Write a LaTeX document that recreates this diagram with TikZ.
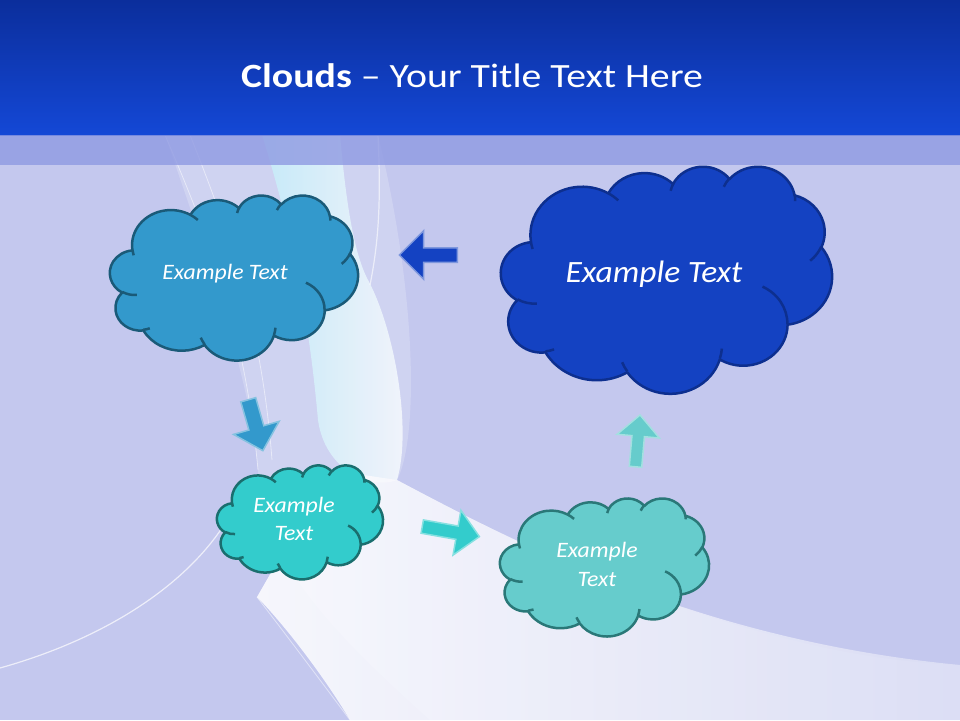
\documentclass[tikz,border=0pt]{standalone}
\usepackage{fontspec}
\setmainfont{Carlito}
\newfontfamily\titlefont[FakeStretch=1.17]{Carlito}
\newfontfamily\cloudfont[FakeStretch=1.08]{Carlito}
\usetikzlibrary{shapes.arrows,positioning}

\definecolor{titletop}{HTML}{0B2E9C}
\definecolor{titlebot}{HTML}{1448D6}
\definecolor{bandblue}{HTML}{8F9AE2}
\definecolor{paper}{HTML}{C4C8EE}
\definecolor{glow}{HTML}{C4F2FB}
\definecolor{skyfill}{HTML}{3399CC}
\definecolor{skyline}{HTML}{1A5A78}
\definecolor{deepfill}{HTML}{1442C2}
\definecolor{deepline}{HTML}{0D2F8F}
\definecolor{aquafill}{HTML}{33CCCC}
\definecolor{aqualine}{HTML}{1A6E6E}
\definecolor{mintfill}{HTML}{66CCCC}
\definecolor{mintline}{HTML}{2A7878}

% one puff arc: x radius, y radius, start angle, sweep (slide angles)
\newcommand{\ooarc}[4]{arc[x radius=#1, y radius=#2,
  start angle={atan2(#1*sin(#3),#2*cos(#3))},
  delta angle={atan2(#1*sin(#3+#4),#2*cos(#3+#4))-atan2(#1*sin(#3),#2*cos(#3))
    +360*round((#4-atan2(#1*sin(#3+#4),#2*cos(#3+#4))+atan2(#1*sin(#3),#2*cos(#3)))/360)}]}

% cloud in the box x0, y0, width, height; fill, line
\newcommand{\ppcloud}[6]{%
  \begin{scope}[shift={(#1,#2)}, xscale=#3/432, yscale=#4/432,
                line width=2.5pt, line join=round]
    \filldraw[fill=#5, draw=#6] (39.00,143.70)
      \ooarc{67.53}{91.90}{-190.4875}{123.7805}
      \ooarc{53.33}{72.67}{-144.1024}{89.9452}
      \ooarc{43.65}{59.45}{-145.8079}{99.7230}
      \ooarc{48.57}{65.95}{-130.9861}{117.2417}
      \ooarc{53.33}{72.73}{-78.7089}{109.0269}
      \ooarc{67.75}{92.20}{-46.2673}{130.2690}
      \ooarc{57.85}{78.67}{0.6250}{114.0333}
      \ooarc{67.52}{92.15}{22.4516}{115.1726}
      \ooarc{77.20}{105.43}{66.2426}{75.7110}
      \ooarc{43.60}{59.18}{-274.9421}{146.7356}
      \ooarc{43.45}{59.45}{-246.8285}{152.5189} -- cycle;
    \draw[#6] (46.93,261.77) \ooarc{43.45}{59.45}{86.7420}{26.4295}
      (69.28,348.99) \ooarc{43.60}{59.18}{73.6105}{11.4475}
      (164.78,390.90) \ooarc{67.52}{92.15}{137.6242}{14.0811}
      (288.27,347.51) \ooarc{67.52}{92.15}{6.4533}{15.9984}
      (341.29,229.54) \ooarc{57.85}{78.67}{-70.2924}{70.9174}
      (417.98,153.54) \ooarc{53.33}{72.73}{30.3180}{27.7515}
      (383.24,54.26) \ooarc{48.57}{65.95}{-13.7443}{14.8589}
      (290.78,39.52) \ooarc{48.57}{65.95}{-149.1815}{18.1954}
      (221.41,47.20) \ooarc{43.65}{59.45}{-163.4943}{17.6864}
      (140.00,51.92) \ooarc{67.53}{91.90}{-66.7070}{12.3194}
      (41.27,157.89) \ooarc{67.53}{91.90}{157.6544}{11.8582};
  \end{scope}}

\tikzset{
  cloudtext/.style={text=white, align=center},
  blockarrow/.style 2 args={single arrow, inner xsep=0pt, inner ysep=#2,
                            minimum width=0pt, line width=1.5pt,
                            single arrow head extend=#1}
}

\begin{document}
\begin{tikzpicture}[x=1pt,y=-1pt]
    \useasboundingbox (0,0) rectangle (960,720);
%   background
    \fill[paper] (0,0) rectangle (960,720);
    \fill[white, fill opacity=0.2]
        (165,135) .. controls (215,280) and (250,380) .. (258,470)
        .. controls (262,560) and (330,630) .. (430,720) -- (960,720)
        -- (960,665) .. controls (800,660) and (600,590) .. (397,480)
        .. controls (418,440) and (418,300) .. (378,135) -- cycle;
    \shade[left color=glow, right color=white, fill opacity=0.75]
        (262,135) .. controls (295,240) and (310,330) .. (318,420)
        .. controls (325,470) and (370,490) .. (397,480)
        .. controls (412,430) and (395,330) .. (368,280)
        .. controls (352,250) and (345,190) .. (340,135) -- cycle;
    \shade[left color=white, right color=paper!55!white, fill opacity=0.85]
        (397,480) .. controls (520,545) and (700,640) .. (960,665)
        -- (960,720) -- (350,720) .. controls (320,670) and (280,620) .. (257,597)
        -- (330,470) -- cycle;
    \draw[white, opacity=0.7, line width=1.2pt]
        (0,668) .. controls (100,640) and (180,590) .. (222,528);
    \draw[white, opacity=0.6, line width=1.2pt]
        (378,135) .. controls (381,200) and (379,240) .. (370,285);
    \draw[white, opacity=0.5, line width=0.8pt]
        (165,135) .. controls (210,240) and (245,330) .. (258,470);
    \draw[white, opacity=0.5, line width=0.8pt]
        (190,135) .. controls (232,240) and (262,330) .. (272,460);
    \draw[white, opacity=0.5, line width=0.8pt]
        (257,597) .. controls (290,640) and (320,680) .. (350,720);
%   title
    \shade[top color=titletop, bottom color=titlebot] (0,0) rectangle (960,135);
    \fill[bandblue, fill opacity=0.8] (0,135) rectangle (960,165);
    \node[text=white, font=\titlefont\fontsize{34}{40}\selectfont] (title) at (472,76)
        {\textbf{Clouds} – Your Title Text Here};

%   clouds
    \ppcloud{110}{195}{248}{165}{skyfill}{skyline}
    \ppcloud{501}{166}{331}{227}{deepfill}{deepline}
    \ppcloud{217}{465}{166}{114}{aquafill}{aqualine}
    \ppcloud{500}{498}{209}{138}{mintfill}{mintline}

    \node[cloudtext, font=\cloudfont\itshape\fontsize{22}{26}\selectfont]
        (skytext) at (225,274) {Example Text};
    \node[cloudtext, font=\cloudfont\itshape\fontsize{31}{36}\selectfont]
        (deeptext) at (654,274) {Example Text};
    \node[cloudtext, font=\cloudfont\itshape\fontsize{22}{28}\selectfont]
        (aquatext) at (294,519) {Example\\Text};
    \node[cloudtext, font=\cloudfont\itshape\fontsize{22}{29}\selectfont]
        (minttext) at (597,564) {Example\\Text};

%   block arrows
    \node[blockarrow={17pt}{6.5pt}, fill=deepfill, draw=deepfill!55!white,
          minimum height=58pt, rotate=180] (toleft) at (432,255) {};
    \node[blockarrow={16pt}{7pt}, fill=skyfill, draw=skyfill!60!white,
          minimum height=53pt, rotate=-74] (todown) at (254.5,421.5) {};
    \node[blockarrow={16pt}{6pt}, fill=aquafill, draw=aquafill!60!white,
          minimum height=58pt, rotate=-10] (toright) at (447.5,531) {};
    \node[blockarrow={15pt}{5.5pt}, fill=mintfill, draw=mintfill!60!white,
          minimum height=52pt, rotate=85] (toup) at (637.5,444) {};
\end{tikzpicture}
\end{document}
